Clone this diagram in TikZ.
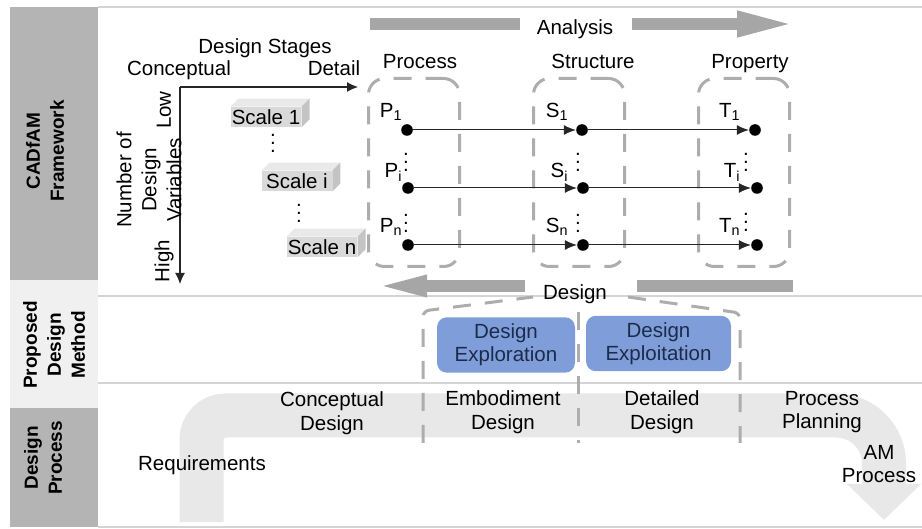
\documentclass[tikz,border=0pt]{standalone}
\usepackage{fontspec}
\setmainfont{Liberation Sans}
\usetikzlibrary{arrows.meta}

\definecolor{bandgray}{HTML}{B4B4B4}
\definecolor{bandlight}{HTML}{F0F0F0}
\definecolor{rulegray}{HTML}{D4D4D4}
\definecolor{bargray}{HTML}{A6A6A6}
\definecolor{dashgray}{HTML}{ADADAD}
\definecolor{flowgray}{HTML}{E8E8E8}
\definecolor{boxfront}{HTML}{D9D9D9}
\definecolor{boxtop}{HTML}{E9E9E9}
\definecolor{boxside}{HTML}{C4C4C4}
\definecolor{methodblue}{HTML}{7F9DD9}
\definecolor{methodtext}{HTML}{1C2B4A}

% three stacked dots without the top kern of \vdots
\newcommand{\dotcol}{\vbox{\baselineskip4pt\lineskiplimit0pt\hbox{.}\hbox{.}\hbox{.}}}

\begin{document}
\begin{tikzpicture}[x=0.5pt,y=-0.5pt,
  font=\fontsize{10.25}{11.75}\selectfont,
  side/.style={font=\fontsize{9.5}{12}\selectfont\bfseries,rotate=90,align=center},
  sep/.style={rulegray,line width=1pt},
  axis/.style={-{Latex[length=5.5pt,width=5pt]},line width=0.6pt,black!85},
  lvlbox/.style={fill=boxfront,inner xsep=0.5pt,inner ysep=0pt,minimum width=35pt,minimum height=10pt},
  grp/.style={draw=dashgray,line width=1.5pt,dash pattern=on 9pt off 7pt,rounded corners=8pt},
  pt/.style={circle,fill=black,inner sep=0pt,minimum size=5.8pt},
  link/.style={-{Latex[length=6pt,width=5pt]},line width=0.5pt,black!85},
  vd/.style={anchor=south,inner sep=0pt},
  bar/.style={bargray,line width=6pt},
  method/.style={fill=methodblue,rounded corners=5pt,text=methodtext,align=center,
                 minimum height=23pt,font=\fontsize{10.25}{11.5}\selectfont},
  flow/.style={flowgray,line width=22pt},
]
% ---------------- frame ----------------
\useasboundingbox (0,0) rectangle (922,529);
\fill[bandgray]  (10,7)   rectangle (98,280);
\fill[bandlight] (10,280) rectangle (98,408);
\fill[bandgray]  (10,408) rectangle (98,527);
\draw[sep] (98,7) -- (922,7);     \draw[sep] (98,296) -- (922,296);
\draw[sep] (98,383) -- (922,383); \draw[sep] (98,527) -- (922,527);
\node[side] (fw)  at (45,151) {CADfAM\\Framework};
\node[side] (pdm) at (54,345) {Proposed\\Design\\Method};
\node[side] (dp)  at (43,458) {Design\\Process};

% ---------------- design process flow ----------------
\coordinate (fA) at (201.5,522);
\coordinate (fB) at (201.5,415.5);
\coordinate (fM) at (500,415.5);
\coordinate (fC) at (884,415.5);
\coordinate (fD) at (884,520);
\draw[flow,rounded corners=12pt] (fA) -- (fB) -- (fM);
\draw[flow,rounded corners=24pt,-{Triangle[length=18pt,width=36pt]}] (fM) -- (fC) -- (fD);

% ---------------- axes ----------------
\coordinate (O) at (180,87); \coordinate (Xe) at (358,87); \coordinate (Ye) at (180,284);
\draw[axis] (O) -- (Xe); \draw[axis] (O) -- (Ye);
\node[anchor=base] (stages)  at (265,54) {Design Stages};
\node[anchor=base] (concept) at (179,76) {Conceptual};
\node[anchor=base] (detail)  at (334,76) {Detail};
\node[rotate=90] (low)  at (164,110) {Low};
\node[rotate=90] (high) at (164,261) {High};
\node[rotate=90,align=center,font=\fontsize{10.25}{12.5}\selectfont] (nvars) at (149,180) {Number of\\Design\\Variables};

% ---------------- scales ----------------
\node[lvlbox] (sc1) at (266,117) {Scale 1};
\node[lvlbox] (sci) at (297,181) {Scale i};
\node[lvlbox] (scn) at (322,247) {Scale n};
\fill[boxtop]  (sc1.north west) -- ++(8,-8) -- ([shift={(8,-8)}]sc1.north east) -- (sc1.north east) -- cycle;
\fill[boxside] (sc1.north east) -- ++(8,-8) -- ([shift={(8,-8)}]sc1.south east) -- (sc1.south east) -- cycle;
\fill[boxtop]  (sci.north west) -- ++(8,-8) -- ([shift={(8,-8)}]sci.north east) -- (sci.north east) -- cycle;
\fill[boxside] (sci.north east) -- ++(8,-8) -- ([shift={(8,-8)}]sci.south east) -- (sci.south east) -- cycle;
\fill[boxtop]  (scn.north west) -- ++(8,-8) -- ([shift={(8,-8)}]scn.north east) -- (scn.north east) -- cycle;
\fill[boxside] (scn.north east) -- ++(8,-8) -- ([shift={(8,-8)}]scn.south east) -- (scn.south east) -- cycle;
\node[vd] (vs1) at (273,153) {\dotcol};
\node[vd] (vs2) at (299,223) {\dotcol};

% ---------------- process / structure / property ----------------
\node[grp,minimum width=45.5pt,minimum height=94pt] (proc)   at (414,172.5) {};
\node[grp,minimum width=45.5pt,minimum height=94pt] (struct) at (579,172.5) {};
\node[grp,minimum width=45.5pt,minimum height=94pt] (prop)   at (744,172.5) {};
\node[anchor=base] (procl)   at (420,69) {Process};
\node[anchor=base] (structl) at (593,69) {Structure};
\node[anchor=base] (propl)   at (750,69) {Property};

\node[pt] (P1) at (407,130) {}; \node[pt] (S1) at (582,130) {}; \node[pt] (T1) at (755,130) {};
\node[pt] (Pi) at (408,188) {}; \node[pt] (Si) at (583,188) {}; \node[pt] (Ti) at (757,188) {};
\node[pt] (Pn) at (408,245) {}; \node[pt] (Sn) at (583,245) {}; \node[pt] (Tn) at (757,245) {};
\draw[link] (P1) -- (S1); \draw[link] (S1) -- (T1);
\draw[link] (Pi) -- (Si); \draw[link] (Si) -- (Ti);
\draw[link] (Pn) -- (Sn); \draw[link] (Sn) -- (Tn);
\node[anchor=base east,inner sep=0pt] (lP1) at (403,118) {P\textsubscript{1}};
\node[anchor=base east,inner sep=0pt] (lS1) at (569,118) {S\textsubscript{1}};
\node[anchor=base east,inner sep=0pt] (lT1) at (741,118) {T\textsubscript{1}};
\node[anchor=base east,inner sep=0pt] (lPi) at (403,178) {P\textsubscript{i}};
\node[anchor=base east,inner sep=0pt] (lSi) at (569,178) {S\textsubscript{i}};
\node[anchor=base east,inner sep=0pt] (lTi) at (741,178) {T\textsubscript{i}};
\node[anchor=base east,inner sep=0pt] (lPn) at (403,233) {P\textsubscript{n}};
\node[anchor=base east,inner sep=0pt] (lSn) at (569,233) {S\textsubscript{n}};
\node[anchor=base east,inner sep=0pt] (lTn) at (741,233) {T\textsubscript{n}};
\node[vd] (vPi) at (406,172) {\dotcol}; \node[vd] (vPn) at (406,233) {\dotcol};
\node[vd] (vSi) at (578,172) {\dotcol}; \node[vd] (vSn) at (578,233) {\dotcol};
\node[vd] (vTi) at (746,172) {\dotcol}; \node[vd] (vTn) at (746,232) {\dotcol};

% ---------------- analysis / design bars ----------------
\node[anchor=base] (ana) at (575,35) {Analysis};
\coordinate (aA) at (370,24); \coordinate (aB) at (520,24);
\coordinate (aC) at (632,24); \coordinate (aD) at (797,24);
\draw[bar] (aA) -- (aB);
\draw[bar,-{Triangle[length=30pt,width=11.5pt]}] (aC) -- (aD);
\node[anchor=base] (des) at (575,300) {Design};
\coordinate (dA) at (525,286); \coordinate (dB) at (365,286);
\coordinate (dC) at (637,286); \coordinate (dD) at (793,286);
\draw[bar,-{Triangle[length=31pt,width=9pt]}] (dA) -- (dB);
\draw[bar] (dC) -- (dD);

% ---------------- proposed design method ----------------
\coordinate (z1) at (423,443); \coordinate (z2) at (423,311); \coordinate (z3) at (533,297);
\coordinate (z4) at (628,297); \coordinate (z5) at (740,313); \coordinate (z6) at (740,443);
\coordinate (m1) at (578,312); \coordinate (m2) at (578,443);
\draw[grp,rounded corners=3pt] (z1) -- (z2) -- (z3) (z4) -- (z5) -- (z6);
\draw[grp] (m1) -- (m2);
\node[method,minimum width=69pt]   (explore) at (506,345)   {Design\\Exploration};
\node[method,minimum width=72.5pt] (exploit) at (658.5,343.5) {Design\\Exploitation};

% ---------------- design process stages ----------------
\node (req) at (202,465) {Requirements};
\node[align=center] (cd)  at (332,413) {Conceptual\\Design};
\node[align=center] (ed)  at (503,412) {Embodiment\\Design};
\node[align=center] (dd)  at (662,412) {Detailed\\Design};
\node[align=center] (pp)  at (822,412) {Process\\Planning};
\node[align=center] (amp) at (879,464) {AM\\Process};
\end{tikzpicture}
\end{document}
